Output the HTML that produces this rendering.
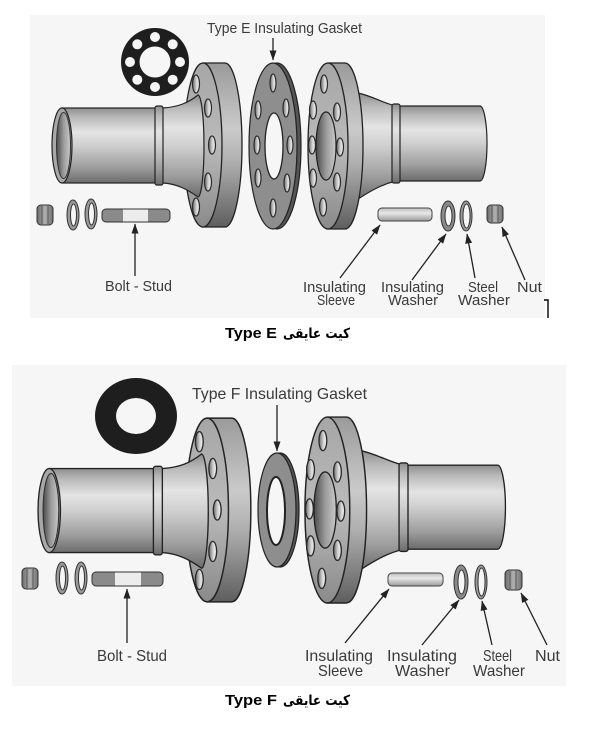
<!DOCTYPE html>
<html><head><meta charset="utf-8"><style>
html,body{margin:0;padding:0;background:#fff;width:601px;height:736px;overflow:hidden}
svg{display:block}
</style></head><body>
<svg width="601" height="736" viewBox="0 0 601 736" xmlns="http://www.w3.org/2000/svg" xmlns:xlink="http://www.w3.org/1999/xlink">
<defs>
<linearGradient id="pg" x1="0" y1="0" x2="0" y2="1"><stop offset="0" stop-color="#8e8e8e"/><stop offset=".12" stop-color="#b8b8b8"/><stop offset=".32" stop-color="#e4e4e4"/><stop offset=".5" stop-color="#cfcfcf"/><stop offset=".78" stop-color="#a0a0a0"/><stop offset="1" stop-color="#6c6c6c"/></linearGradient>
<linearGradient id="rg" x1="0" y1="0" x2="0" y2="1"><stop offset="0" stop-color="#9a9a9a"/><stop offset=".4" stop-color="#cacaca"/><stop offset=".6" stop-color="#b0b0b0"/><stop offset="1" stop-color="#5e5e5e"/></linearGradient>
<linearGradient id="fg" x1="0" y1="0" x2="0" y2="1"><stop offset="0" stop-color="#a6a6a6"/><stop offset=".5" stop-color="#bababa"/><stop offset="1" stop-color="#8a8a8a"/></linearGradient>
<linearGradient id="bore" x1="0" y1="0" x2="1" y2="0"><stop offset="0" stop-color="#4a4a4a"/><stop offset=".5" stop-color="#9a9a9a"/><stop offset="1" stop-color="#cacaca"/></linearGradient>
<linearGradient id="hole" x1="0" y1="0" x2="1" y2="0"><stop offset="0" stop-color="#6a6a6a"/><stop offset=".6" stop-color="#d8d8d8"/><stop offset="1" stop-color="#eeeeee"/></linearGradient>
<linearGradient id="sl" x1="0" y1="0" x2="0" y2="1"><stop offset="0" stop-color="#bdbdbd"/><stop offset=".4" stop-color="#e8e8e8"/><stop offset="1" stop-color="#9a9a9a"/></linearGradient>
<linearGradient id="nut" x1="0" y1="0" x2="1" y2="0"><stop offset="0" stop-color="#6a6a6a"/><stop offset=".5" stop-color="#b0b0b0"/><stop offset="1" stop-color="#707070"/></linearGradient>
<marker id="ah" viewBox="0 0 10 7" refX="9.5" refY="3.5" markerUnits="userSpaceOnUse" markerWidth="10" markerHeight="7" orient="auto"><path d="M0,0 L10,3.5 L0,7 Z" fill="#222"/></marker>

<g id="LA">
  <path d="M203,63 L225,63 A17,82 0 0 1 225,227 L203,227 Z" fill="url(#rg)" stroke="#222" stroke-width="1.3"/>
  <ellipse cx="203" cy="145" rx="19" ry="82" fill="url(#fg)" stroke="#222" stroke-width="1.3"/>
  <g fill="url(#hole)" stroke="#2a2a2a" stroke-width="1.2">
    <ellipse cx="196" cy="84" rx="3.5" ry="9"/>
    <ellipse cx="208" cy="108" rx="3.5" ry="9"/>
    <ellipse cx="212" cy="145" rx="3.5" ry="9"/>
    <ellipse cx="208" cy="182" rx="3.5" ry="9"/>
    <ellipse cx="196" cy="207" rx="3.5" ry="9"/>
  </g>
  <rect x="62" y="108" width="96" height="75" fill="url(#pg)" stroke="#222" stroke-width="1.2"/>
  <path d="M158,108 L163,108 C178,107 188,103 198,95 A6,51 0 0 1 198,197 C188,190 178,184 163,183 L158,183 Z" fill="url(#pg)" stroke="#222" stroke-width="1.2"/>
  <rect x="155" y="106" width="8" height="79" rx="2" fill="url(#pg)" stroke="#222" stroke-width="1.2"/>
  <ellipse cx="62" cy="145.5" rx="10" ry="37.5" fill="#a8a8a8" stroke="#222" stroke-width="1.2"/>
  <ellipse cx="63.5" cy="145.5" rx="7" ry="33" fill="url(#bore)" stroke="#333" stroke-width="1"/>
</g>

<g id="RA">
  <path d="M395,106 L480,106 A7,37.5 0 0 1 480,181 L395,181 Z" fill="url(#pg)" stroke="#222" stroke-width="1.2"/>
  <path d="M358,93 C372,96 383,103 396,106 L396,181 C383,184 372,190 358,199 Z" fill="url(#pg)" stroke="#222" stroke-width="1.2"/>
  <rect x="392" y="104" width="8" height="79" rx="2" fill="url(#pg)" stroke="#222" stroke-width="1.2"/>
  <path d="M328,63 L345,63 A18,83 0 0 1 345,229 L328,229 Z" fill="url(#rg)" stroke="#222" stroke-width="1.3"/>
  <ellipse cx="328" cy="146" rx="20" ry="83" fill="url(#fg)" stroke="#222" stroke-width="1.3"/>
  <ellipse cx="326" cy="146" rx="10" ry="34" fill="url(#bore)" stroke="#222" stroke-width="1.2"/>
  <g fill="url(#hole)" stroke="#2a2a2a" stroke-width="1.2">
    <ellipse cx="324" cy="84" rx="3.5" ry="9"/>
    <ellipse cx="313" cy="110" rx="3.5" ry="9"/>
    <ellipse cx="337" cy="112" rx="3.5" ry="9"/>
    <ellipse cx="312" cy="145" rx="3.5" ry="9"/>
    <ellipse cx="340" cy="147" rx="3.5" ry="9"/>
    <ellipse cx="313" cy="178" rx="3.5" ry="9"/>
    <ellipse cx="337" cy="182" rx="3.5" ry="9"/>
    <ellipse cx="323" cy="207" rx="3.5" ry="9"/>
  </g>
</g>
</defs>

<!-- backgrounds -->
<rect x="30" y="15" width="515" height="303" fill="#f6f6f6"/>
<rect x="12" y="365" width="554" height="321" fill="#f6f6f6"/>

<!-- ===== TOP (Type E) ===== -->
<circle cx="155" cy="62" r="34" fill="#1e1e1e"/>
<circle cx="155" cy="62" r="15.5" fill="#f6f6f6"/>
<g fill="#f6f6f6">
  <circle cx="155" cy="37" r="5"/><circle cx="172.7" cy="44.3" r="5"/><circle cx="180" cy="62" r="5"/><circle cx="172.7" cy="79.7" r="5"/>
  <circle cx="155" cy="87" r="5"/><circle cx="137.3" cy="79.7" r="5"/><circle cx="130" cy="62" r="5"/><circle cx="137.3" cy="44.3" r="5"/>
</g>

<use xlink:href="#LA" href="#LA"/>

<!-- gasket E -->
<ellipse cx="277" cy="146" rx="24" ry="83" fill="#555" stroke="#222" stroke-width="1.2"/>
<ellipse cx="273" cy="146" rx="24" ry="83" fill="#8e8e8e" stroke="#222" stroke-width="1.2"/>
<ellipse cx="274" cy="146" rx="9" ry="33" fill="#f6f6f6" stroke="#222" stroke-width="1.3"/>
<g fill="url(#hole)" stroke="#2a2a2a" stroke-width="1.2">
  <ellipse cx="273" cy="83" rx="3" ry="9"/>
  <ellipse cx="258" cy="110" rx="3" ry="9"/>
  <ellipse cx="286" cy="108" rx="3" ry="9"/>
  <ellipse cx="257" cy="145" rx="3" ry="9"/>
  <ellipse cx="290" cy="145" rx="3" ry="9"/>
  <ellipse cx="258" cy="178" rx="3" ry="9"/>
  <ellipse cx="287" cy="183" rx="3" ry="9"/>
  <ellipse cx="273" cy="208" rx="3" ry="9"/>
</g>

<use xlink:href="#RA" href="#RA"/>

<!-- left parts top -->
<rect x="37" y="205" width="16" height="20" rx="4" fill="url(#nut)" stroke="#333" stroke-width="1"/>
<line x1="42" y1="206" x2="42" y2="224" stroke="#444" stroke-width=".8"/><line x1="48" y1="206" x2="48" y2="224" stroke="#444" stroke-width=".8"/>
<ellipse cx="73" cy="215" rx="6" ry="15" fill="#999" stroke="#333" stroke-width="1"/>
<ellipse cx="73.5" cy="215" rx="3" ry="11" fill="#f6f6f6" stroke="#333" stroke-width="1"/>
<ellipse cx="91" cy="214" rx="6" ry="15" fill="#999" stroke="#333" stroke-width="1"/>
<ellipse cx="91.5" cy="214" rx="3" ry="11" fill="#f6f6f6" stroke="#333" stroke-width="1"/>
<rect x="102" y="209" width="68" height="13" rx="4" fill="#8a8a8a" stroke="#333" stroke-width="1"/>
<rect x="123" y="209.5" width="25" height="12" fill="#ececec"/>
<line x1="135" y1="276" x2="135" y2="224" stroke="#222" stroke-width="1.3" marker-end="url(#ah)"/>

<!-- right parts top -->
<rect x="378" y="208" width="54" height="13" rx="4" fill="url(#sl)" stroke="#444" stroke-width="1"/>
<ellipse cx="448" cy="216" rx="7" ry="15" fill="#8a8a8a" stroke="#333" stroke-width="1"/>
<ellipse cx="448.5" cy="216" rx="3.5" ry="10" fill="#f6f6f6" stroke="#333" stroke-width="1"/>
<ellipse cx="466" cy="216" rx="6" ry="15" fill="#9a9a9a" stroke="#333" stroke-width="1"/>
<ellipse cx="466.5" cy="216" rx="3.5" ry="12" fill="#f6f6f6" stroke="#333" stroke-width="1"/>
<rect x="487" y="205" width="16" height="18" rx="4" fill="url(#nut)" stroke="#333" stroke-width="1"/>
<line x1="492" y1="206" x2="492" y2="222" stroke="#444" stroke-width=".8"/><line x1="498" y1="206" x2="498" y2="222" stroke="#444" stroke-width=".8"/>
<g stroke="#222" stroke-width="1.3" marker-end="url(#ah)">
  <line x1="340" y1="278" x2="380" y2="225"/>
  <line x1="412" y1="280" x2="446" y2="234"/>
  <line x1="475" y1="278" x2="467" y2="234"/>
  <line x1="525" y1="280" x2="502" y2="227"/>
  <line x1="273" y1="38" x2="273" y2="60"/>
</g>
<path d="M544,300 L548,300 L548,318" fill="none" stroke="#000" stroke-width="1.4"/>

<g font-family="Liberation Sans, sans-serif" fill="#3a3a3a" font-size="15">
  <text x="207" y="33" textLength="155" lengthAdjust="spacingAndGlyphs">Type E Insulating Gasket</text>
  <text x="105" y="291" textLength="67" lengthAdjust="spacingAndGlyphs">Bolt - Stud</text>
  <text x="303" y="292" textLength="63" lengthAdjust="spacingAndGlyphs">Insulating</text>
  <text x="317" y="305" textLength="38" lengthAdjust="spacingAndGlyphs">Sleeve</text>
  <text x="381" y="292" textLength="63" lengthAdjust="spacingAndGlyphs">Insulating</text>
  <text x="388" y="305" textLength="50" lengthAdjust="spacingAndGlyphs">Washer</text>
  <text x="468" y="292" textLength="30" lengthAdjust="spacingAndGlyphs">Steel</text>
  <text x="458" y="305" textLength="52" lengthAdjust="spacingAndGlyphs">Washer</text>
  <text x="517" y="292" textLength="25" lengthAdjust="spacingAndGlyphs">Nut</text>
</g>
<text x="225" y="338" font-family="Liberation Sans, sans-serif" font-weight="bold" font-size="15" fill="#000" textLength="52" lengthAdjust="spacingAndGlyphs">Type E</text>
<text x="283" y="338" font-family="DejaVu Sans, sans-serif" font-weight="bold" font-size="14" fill="#000" textLength="67" lengthAdjust="spacingAndGlyphs">کیت عایقی</text>

<!-- ===== BOTTOM (Type F) ===== -->
<ellipse cx="136" cy="416" rx="41" ry="38" fill="#1e1e1e"/>
<ellipse cx="136" cy="416" rx="20" ry="18" fill="#f6f6f6"/>

<use xlink:href="#LA" href="#LA" transform="translate(-20.2,347.6) scale(1.12)"/>

<!-- gasket F -->
<ellipse cx="280" cy="510" rx="19" ry="57" fill="#555" stroke="#222" stroke-width="1.2"/>
<ellipse cx="277" cy="510" rx="19" ry="57" fill="#8e8e8e" stroke="#222" stroke-width="1.2"/>
<ellipse cx="276" cy="511" rx="9" ry="34" fill="#f6f6f6" stroke="#222" stroke-width="2"/>

<use xlink:href="#RA" href="#RA" transform="translate(-40,346.5) scale(1.12)"/>

<!-- left parts bottom -->
<rect x="22" y="568" width="16" height="21" rx="4" fill="url(#nut)" stroke="#333" stroke-width="1"/>
<line x1="27" y1="569" x2="27" y2="588" stroke="#444" stroke-width=".8"/><line x1="33" y1="569" x2="33" y2="588" stroke="#444" stroke-width=".8"/>
<ellipse cx="62" cy="578" rx="6" ry="16" fill="#999" stroke="#333" stroke-width="1"/>
<ellipse cx="62.5" cy="578" rx="3" ry="12" fill="#f6f6f6" stroke="#333" stroke-width="1"/>
<ellipse cx="81" cy="578" rx="6" ry="16" fill="#999" stroke="#333" stroke-width="1"/>
<ellipse cx="81.5" cy="578" rx="3" ry="12" fill="#f6f6f6" stroke="#333" stroke-width="1"/>
<rect x="92" y="572" width="71" height="14" rx="4" fill="#8a8a8a" stroke="#333" stroke-width="1"/>
<rect x="115" y="572.5" width="26" height="13" fill="#ececec"/>
<line x1="127" y1="643" x2="127" y2="589" stroke="#222" stroke-width="1.3" marker-end="url(#ah)"/>

<!-- right parts bottom -->
<rect x="388" y="573" width="55" height="13" rx="4" fill="url(#sl)" stroke="#444" stroke-width="1"/>
<ellipse cx="461" cy="582" rx="7" ry="17" fill="#8a8a8a" stroke="#333" stroke-width="1"/>
<ellipse cx="461.5" cy="582" rx="3.5" ry="12" fill="#f6f6f6" stroke="#333" stroke-width="1"/>
<ellipse cx="481" cy="582" rx="6" ry="17" fill="#9a9a9a" stroke="#333" stroke-width="1"/>
<ellipse cx="481.5" cy="582" rx="3.5" ry="14" fill="#f6f6f6" stroke="#333" stroke-width="1"/>
<rect x="505" y="570" width="17" height="20" rx="4" fill="url(#nut)" stroke="#333" stroke-width="1"/>
<line x1="510" y1="571" x2="510" y2="589" stroke="#444" stroke-width=".8"/><line x1="516" y1="571" x2="516" y2="589" stroke="#444" stroke-width=".8"/>
<g stroke="#222" stroke-width="1.3" marker-end="url(#ah)">
  <line x1="345" y1="643" x2="389" y2="589"/>
  <line x1="422" y1="645" x2="459" y2="600"/>
  <line x1="492" y1="645" x2="482" y2="601"/>
  <line x1="547" y1="645" x2="521" y2="593"/>
  <line x1="277" y1="405" x2="277" y2="451"/>
</g>

<g font-family="Liberation Sans, sans-serif" fill="#3a3a3a" font-size="16">
  <text x="192" y="399" textLength="175" lengthAdjust="spacingAndGlyphs">Type F Insulating Gasket</text>
  <text x="97" y="661" textLength="70" lengthAdjust="spacingAndGlyphs">Bolt - Stud</text>
  <text x="305" y="661" textLength="68" lengthAdjust="spacingAndGlyphs">Insulating</text>
  <text x="318" y="676" textLength="45" lengthAdjust="spacingAndGlyphs">Sleeve</text>
  <text x="387" y="661" textLength="70" lengthAdjust="spacingAndGlyphs">Insulating</text>
  <text x="395" y="676" textLength="55" lengthAdjust="spacingAndGlyphs">Washer</text>
  <text x="483" y="661" textLength="29" lengthAdjust="spacingAndGlyphs">Steel</text>
  <text x="473" y="676" textLength="52" lengthAdjust="spacingAndGlyphs">Washer</text>
  <text x="535" y="661" textLength="25" lengthAdjust="spacingAndGlyphs">Nut</text>
</g>
<text x="225" y="705" font-family="Liberation Sans, sans-serif" font-weight="bold" font-size="15" fill="#000" textLength="52" lengthAdjust="spacingAndGlyphs">Type F</text>
<text x="283" y="705" font-family="DejaVu Sans, sans-serif" font-weight="bold" font-size="14" fill="#000" textLength="67" lengthAdjust="spacingAndGlyphs">کیت عایقی</text>
</svg>
</body></html>
